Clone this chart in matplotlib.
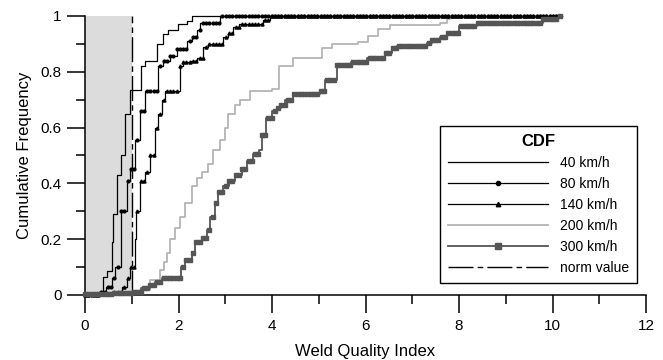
import numpy as np
import matplotlib.pyplot as plt
from matplotlib.lines import Line2D

plt.rcParams['font.family'] = ['Liberation Sans', 'DejaVu Sans']

# step breakpoints of the empirical CDFs (weld quality index, cumulative frequency)
x_40 = [0.0, 0.2, 0.3, 0.38, 0.46, 0.57, 0.6, 0.68, 0.78, 0.86, 0.97, 1.2, 1.28, 1.53,
        1.67, 1.78, 1.99, 2.18, 2.29, 10.2]
f_40 = [0.0, 0.005, 0.01, 0.065, 0.085, 0.19, 0.29, 0.43, 0.5, 0.65, 0.735, 0.82, 0.84, 0.9,
        0.935, 0.95, 0.97, 0.983, 1.0, 1.0]

x_80 = [0.0, 0.1, 0.3, 0.45, 0.57, 0.65, 0.77, 0.9, 0.96, 1.07, 1.18, 1.28, 1.56, 1.67,
        1.82, 1.96, 2.18, 2.29, 2.39, 2.46, 2.89, 10.2]
f_80 = [0.0, 0.005, 0.01, 0.03, 0.06, 0.1, 0.3, 0.41, 0.45, 0.555, 0.66, 0.73, 0.82, 0.84,
        0.855, 0.88, 0.91, 0.925, 0.95, 0.975, 1.0, 1.0]

x_140 = [0.0, 0.3, 0.6, 0.8, 0.9, 0.97, 1.07, 1.1, 1.18, 1.28, 1.39, 1.5, 1.56, 1.65, 1.72,
         2.03, 2.1, 2.25, 2.39, 2.53, 2.63, 2.95, 3.05, 3.17, 3.3, 3.8, 3.95, 10.2]
f_140 = [0.0, 0.005, 0.01, 0.03, 0.06, 0.1, 0.2, 0.3, 0.41, 0.44, 0.5, 0.6, 0.65, 0.7, 0.73,
         0.82, 0.835, 0.84, 0.85, 0.89, 0.9, 0.925, 0.94, 0.96, 0.97, 0.985, 1.0, 1.0]

x_200 = [0.0, 1.0, 1.18, 1.39, 1.6, 1.7, 1.75, 1.82, 1.92, 2.03, 2.14, 2.28, 2.39, 2.5,
         2.63, 2.74, 2.89, 2.99, 3.06, 3.2, 3.32, 3.53, 3.99, 4.14, 4.45, 5.06, 5.28, 5.85,
         6.06, 6.27, 6.52, 7.6, 7.74, 7.8, 10.2]
f_200 = [0.0, 0.005, 0.018, 0.054, 0.09, 0.12, 0.15, 0.2, 0.24, 0.28, 0.33, 0.39, 0.42, 0.44,
         0.47, 0.52, 0.555, 0.6, 0.65, 0.68, 0.7, 0.73, 0.74, 0.82, 0.85, 0.885, 0.9, 0.908,
         0.93, 0.955, 0.967, 0.975, 0.99, 1.0, 1.0]

x_300 = [0.0, 0.6, 1.0, 1.2, 1.39, 1.5, 1.64, 2.05, 2.14, 2.28, 2.35, 2.5, 2.6, 2.67, 2.78,
         2.85, 2.95, 3.08, 3.2, 3.35, 3.47, 3.6, 3.72, 3.78, 3.87, 4.0, 4.1, 4.2, 4.28, 4.45,
         5.03, 5.13, 5.38, 5.7, 6.03, 6.42, 6.56, 6.67, 7.31, 7.42, 7.6, 7.74, 8.0, 8.38,
         9.8, 10.1, 10.2]
f_300 = [0.004, 0.008, 0.012, 0.025, 0.036, 0.048, 0.062, 0.1, 0.125, 0.15, 0.19, 0.205,
         0.233, 0.28, 0.33, 0.37, 0.39, 0.41, 0.43, 0.45, 0.48, 0.505, 0.52, 0.575, 0.634,
         0.66, 0.67, 0.68, 0.7, 0.72, 0.73, 0.77, 0.824, 0.836, 0.85, 0.867, 0.885, 0.893,
         0.903, 0.914, 0.926, 0.94, 0.965, 0.975, 0.99, 1.0, 1.0]

norm_value = 1.0
marker_step = 0.07

series = [
    ('40 km/h', x_40, f_40, 'black', 0.9, None, 0),
    ('80 km/h', x_80, f_80, 'black', 0.9, 'o', 2.0),
    ('140 km/h', x_140, f_140, 'black', 0.9, '^', 2.2),
    ('200 km/h', x_200, f_200, '#b4b4b4', 1.3, None, 0),
    ('300 km/h', x_300, f_300, '#555555', 1.3, 's', 3.3),
]

fig = plt.figure(figsize=(6.63, 3.6), dpi=100)
ax = fig.add_axes([0.1282, 0.1806, 0.8462, 0.775])

# region below the norm value
ax.axvspan(0, norm_value, ymin=0, ymax=1, color='#dcdcdc', lw=0, zorder=0)

handles = []
for label, xs, fs, col, lw, mk, ms in series:
    xs = np.array(xs)
    fs = np.array(fs)
    ax.step(xs, fs, where='post', color=col, lw=lw, clip_on=False, zorder=3)
    if mk is not None:
        gx = np.arange(0, xs[-1] + 1e-9, marker_step)
        gy = fs[np.searchsorted(xs, gx, side='right') - 1]
        ax.plot(gx, gy, ls='none', marker=mk, ms=ms, color=col, mec=col,
                clip_on=False, zorder=4)
    handles.append(Line2D([], [], color=col, lw=lw, marker=mk, ms=ms + 1))

ax.plot([norm_value, norm_value], [0, 1], color='black', lw=1.0,
        dashes=(18, 3, 4, 3), zorder=3, clip_on=False)
handles.append(Line2D([], [], color='black', lw=1.0, dashes=(18, 3, 4, 3)))
labels = [s[0] for s in series] + ['norm value']

ax.set_xlim(0, 12)
ax.set_ylim(0, 1)
ax.set_xticks(np.arange(0, 13, 2))
ax.set_xticks(np.arange(1, 12, 2), minor=True)
ax.set_yticks([0, 0.2, 0.4, 0.6, 0.8, 1.0])
ax.set_yticklabels(['0', '0.2', '0.4', '0.6', '0.8', '1'])
ax.set_yticks(np.arange(0.1, 1.0, 0.2), minor=True)
ax.tick_params(which='major', length=13, width=1.1, labelsize=11, pad=4)
ax.tick_params(which='minor', length=6.5, width=1.1)
for side in ['top', 'right']:
    ax.spines[side].set_visible(False)
for side in ['left', 'bottom']:
    ax.spines[side].set_linewidth(1.1)

ax.set_xlabel('Weld Quality Index', fontsize=12, labelpad=8)
ax.set_ylabel('Cumulative Frequency', fontsize=12, labelpad=6)

leg = ax.legend(handles, labels, loc='lower right', bbox_to_anchor=(0.984, 0.043),
                borderaxespad=0, fontsize=10, handlelength=7.2, handletextpad=0.8,
                labelspacing=0.5, fancybox=False, framealpha=1, edgecolor='black',
                title='CDF', title_fontproperties={'weight': 'bold', 'size': 12},
                borderpad=0.6)
leg.get_frame().set_linewidth(1.0)

fig.savefig('out.png', dpi=100)
